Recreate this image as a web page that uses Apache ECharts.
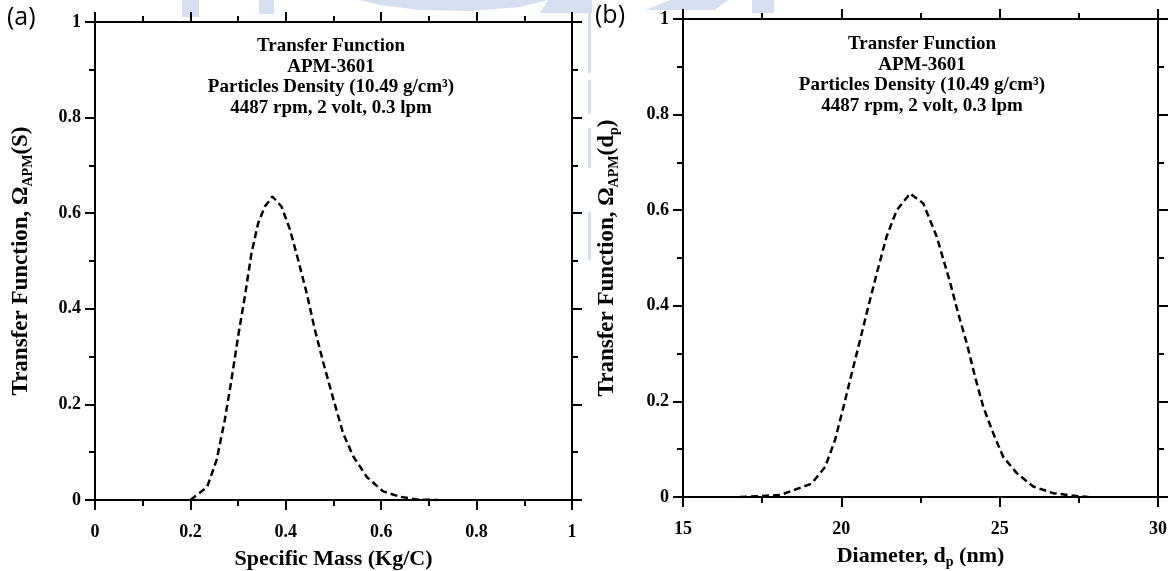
<!DOCTYPE html>
<html>
<head>
<meta charset="utf-8">
<script src="https://cdn.jsdelivr.net/npm/echarts@6/dist/echarts.min.js"></script>
<style>
  html, body { margin: 0; padding: 0; background: #fff; }
  #chart { width: 1176px; height: 571px; }
</style>
</head>
<body>
<div id="chart"></div>
<script>
// Panel (a): transfer function versus specific mass (Kg/C)
const massX = [0.200, 0.235, 0.255, 0.272, 0.286, 0.300, 0.314, 0.328, 0.342, 0.356, 0.372,
               0.391, 0.409, 0.426, 0.444, 0.461, 0.479, 0.500, 0.520, 0.541, 0.570, 0.604,
               0.639, 0.674, 0.720];
const massOmega = [0.000, 0.027, 0.084, 0.167, 0.251, 0.342, 0.425, 0.516, 0.579, 0.614, 0.635,
                   0.614, 0.565, 0.502, 0.432, 0.356, 0.286, 0.210, 0.140, 0.092, 0.048, 0.018,
                   0.007, 0.001, 0.000];

// Panel (b): transfer function versus particle diameter (nm)
const diamX = [16.8, 18.06, 19.06, 19.49, 19.80, 20.07, 20.33, 20.59, 20.85, 21.12, 21.43,
               21.75, 22.17, 22.59, 23.01, 23.43, 23.69, 23.96, 24.22, 24.48, 24.80, 25.11,
               25.54, 26.06, 26.69, 27.43, 27.8];
const diamOmega = [0.000, 0.004, 0.028, 0.063, 0.119, 0.189, 0.259, 0.328, 0.398, 0.468, 0.545,
                   0.600, 0.635, 0.614, 0.545, 0.450, 0.384, 0.322, 0.252, 0.189, 0.133, 0.084,
                   0.050, 0.022, 0.008, 0.002, 0.000];

// Annotation block shown in both panels
const noteLines = ['Transfer Function', 'APM-3601', 'Particles Density (10.49 g/cm³)', '4487 rpm, 2 volt, 0.3 lpm'];
const panelTags = ['(a)', '(b)'];

const SERIF = '"Liberation Serif", "Times New Roman", serif';
const zip = (xs, ys) => xs.map((x, i) => [x, ys[i]]);

const lineBlack = { color: '#000', width: 2 };
const labelStyle = { fontFamily: SERIF, fontWeight: 'bold', fontSize: 18, color: '#000' };

function nameStyle(size) {
  return {
    fontFamily: SERIF, fontWeight: 'bold', fontSize: size, color: '#000', lineHeight: size + 4,
    rich: {
      sub: { fontFamily: SERIF, fontWeight: 'bold', fontSize: Math.round(size * 0.62), color: '#000',
             verticalAlign: 'bottom', lineHeight: size + 4 }
    }
  };
}

function axis(gridIndex, position, scale, opts) {
  const showLabel = position === 'bottom' || position === 'left';
  return Object.assign({
    type: 'value',
    gridIndex: gridIndex,
    position: position,
    min: scale.min, max: scale.max, interval: scale.interval,
    axisLine: { show: true, onZero: false, lineStyle: lineBlack },
    axisTick: { show: true, inside: false, length: 10, lineStyle: lineBlack },
    minorTick: { show: true, splitNumber: 2, length: 6, lineStyle: lineBlack },
    splitLine: { show: false },
    minorSplitLine: { show: false },
    axisLabel: Object.assign({ show: showLabel,
      margin: (position === 'bottom' ? 23 : 14) }, labelStyle)
  }, opts || {});
}

const massScale = { min: 0, max: 1, interval: 0.2 };
const diamScale = { min: 15, max: 30, interval: 5 };
const omegaScale = { min: 0, max: 1, interval: 0.2 };

// fixed plot rectangles; labels and titles sit outside them
const grids = [
  { left: 95, top: 22, width: 477, height: 478, containLabel: false, outerBoundsMode: 'none' },
  { left: 683, top: 19, width: 475, height: 478, containLabel: false, outerBoundsMode: 'none' }
];

function noteText(cx, top) {
  return {
    type: 'text', x: cx, y: top, z: 5,
    style: {
      text: noteLines.join('\n'),
      align: 'center',
      verticalAlign: 'top',
      font: 'bold 19px ' + SERIF,
      lineHeight: 20.5,
      fill: '#000'
    }
  };
}

// faint pale-blue logo pieces peeking along the top edge
const wm = '#d6dff0';
const watermark = [
  { type: 'rect', shape: { x: 182, y: 0, width: 17, height: 17 } },
  { type: 'rect', shape: { x: 259, y: 0, width: 15, height: 14 } },
  { type: 'polygon', shape: { points: [[360, 0], [548, 0], [520, 7], [470, 11], [420, 10], [380, 5]] } },
  { type: 'polygon', shape: { points: [[548, 0], [592, 0], [592, 13], [540, 13]] } },
  { type: 'polygon', shape: { points: [[670, 0], [728, 0], [715, 10], [645, 10]] } },
  { type: 'rect', shape: { x: 752, y: 0, width: 22, height: 13 } },
  { type: 'rect', shape: { x: 588, y: 13, width: 3, height: 60 } },
  { type: 'rect', shape: { x: 588, y: 80, width: 3, height: 34 } },
  { type: 'rect', shape: { x: 588, y: 128, width: 3, height: 40 } },
  { type: 'rect', shape: { x: 588, y: 212, width: 3, height: 48 } }
].map(el => Object.assign(el, { z: -10, silent: true, style: { fill: wm } }));

const option = {
  backgroundColor: '#fff',
  animation: false,
  grid: grids,
  xAxis: [
    axis(0, 'bottom', massScale, { name: 'Specific Mass (Kg/C)', nameLocation: 'middle', nameGap: 40, nameTextStyle: nameStyle(22) }),
    axis(0, 'top', massScale),
    axis(1, 'bottom', diamScale, { name: 'Diameter, d{sub|p} (nm)', nameLocation: 'middle', nameGap: 39, nameTextStyle: nameStyle(22) }),
    axis(1, 'top', diamScale)
  ],
  yAxis: [
    axis(0, 'left', omegaScale, { name: 'Transfer Function, Ω{sub|APM}(S)', nameLocation: 'middle', nameGap: 60, nameTextStyle: nameStyle(23) }),
    axis(0, 'right', omegaScale),
    axis(1, 'left', omegaScale, { name: 'Transfer Function, Ω{sub|APM}(d{sub|p})', nameLocation: 'middle', nameGap: 62, nameTextStyle: nameStyle(23) }),
    axis(1, 'right', omegaScale)
  ],
  series: [
    {
      type: 'line', xAxisIndex: 0, yAxisIndex: 0,
      data: zip(massX, massOmega),
      showSymbol: false, smooth: false,
      lineStyle: { color: '#000', width: 2.5, type: [7, 4] }
    },
    {
      type: 'line', xAxisIndex: 2, yAxisIndex: 2,
      data: zip(diamX, diamOmega),
      showSymbol: false, smooth: false,
      lineStyle: { color: '#000', width: 2.5, type: [7, 4] }
    }
  ],
  graphic: watermark.concat([
    noteText(331, 36),
    noteText(922, 34),
    { type: 'text', left: 7, top: 5, z: 5,
      style: { text: panelTags[0], font: '25px "Open Sans", "Noto Sans", sans-serif', fill: '#000' } },
    { type: 'text', left: 595, top: 3, z: 5,
      style: { text: panelTags[1], font: '25px "Open Sans", "Noto Sans", sans-serif', fill: '#000' } }
  ])
};

const chart = echarts.init(document.getElementById('chart'), null, { renderer: 'canvas' });
chart.setOption(option);
</script>
</body>
</html>
